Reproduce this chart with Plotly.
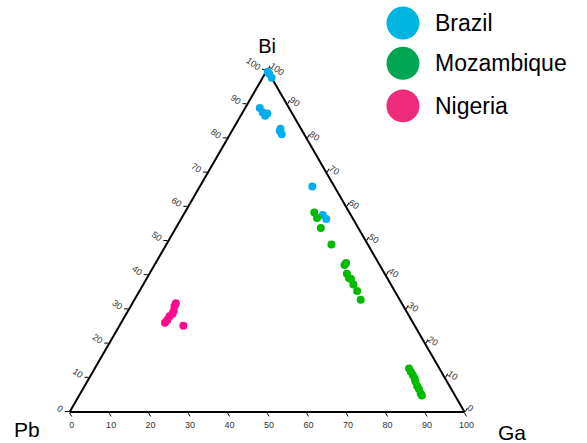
import plotly.graph_objects as go

# Ternary compositions (percent): Bi (top), Pb (bottom-left), Ga (bottom-right)
brazil_bi = [99.5, 99.0, 97.7, 88.9, 87.6, 87.3, 86.6, 82.8, 82.2, 81.2, 65.9, 57.6, 56.4]
brazil_ga = [0.4, 1.0, 2.3, 3.7, 5.1, 6.4, 6.2, 12.0, 12.1, 13.1, 28.5, 35.3, 36.8]
brazil_pb = [0.1, 0.0, 0.0, 7.4, 7.3, 6.3, 7.2, 5.2, 5.7, 5.7, 5.6, 7.1, 6.8]

moz_bi = [58.3, 56.7, 53.8, 49.0, 43.0, 43.6, 40.4, 39.2, 38.9, 37.3, 35.4, 32.8,
          12.7, 11.8, 10.8, 9.9, 8.9, 7.6, 6.7, 5.4, 4.8]
moz_ga = [32.8, 34.3, 36.7, 41.8, 48.1, 48.2, 50.0, 51.1, 51.8, 53.2, 55.1, 57.3,
          79.6, 80.5, 81.5, 82.4, 83.1, 84.2, 85.1, 86.2, 86.8]
moz_pb = [8.9, 9.0, 9.5, 9.2, 8.9, 8.2, 9.6, 9.7, 9.3, 9.5, 9.5, 9.9,
          7.7, 7.7, 7.7, 7.7, 8.0, 8.2, 8.2, 8.4, 8.4]

nig_bi = [31.8, 30.9, 29.5, 28.7, 28.0, 26.8, 26.1, 25.2]
nig_ga = [11.0, 11.1, 11.6, 11.7, 11.3, 11.3, 11.1, 16.2]
nig_pb = [57.2, 58.0, 58.9, 59.6, 60.7, 61.9, 62.8, 58.6]

tick_vals = list(range(0, 101, 10))
countries = ["Brazil", "Mozambique", "Nigeria"]
corner_labels = ["Bi", "Pb", "Ga"]
legend_colors = ["#00B4E0", "#00A651", "#EE2A7B"]
point_colors = ["#00AEEF", "#00BB00", "#FF0A8C"]

FONT = "Liberation Sans"

fig = go.Figure()
series = [(brazil_bi, brazil_pb, brazil_ga), (moz_bi, moz_pb, moz_ga), (nig_bi, nig_pb, nig_ga)]
for name, col, (a, b, c) in zip(countries, point_colors, series):
    fig.add_trace(go.Scatterternary(
        a=a, b=b, c=c, mode="markers", name=name,
        marker=dict(size=8, color=col, line=dict(width=0)),
        showlegend=False, cliponaxis=False,
    ))

axis_common = dict(
    showgrid=False, linecolor="black", linewidth=2, ticks="outside", ticklen=4,
    tickcolor="black", tickwidth=1, tickfont=dict(size=9, color="#333", family=FONT),
    tickvals=tick_vals, min=0, layer="below traces",
)

fig.update_layout(
    width=587, height=443,
    margin=dict(l=0, r=0, t=0, b=0),
    paper_bgcolor="white",
    font=dict(family=FONT, color="black"),
    ternary=dict(
        sum=100,
        bgcolor="white",
        domain=dict(x=[0.1, 0.81], y=[0.07, 0.842]),
        aaxis=dict(title=dict(text=corner_labels[0], font=dict(size=20, family=FONT)),
                   ticktext=[str(v) for v in tick_vals], tickangle=35, **axis_common),
        baxis=dict(title=dict(text=""),
                   ticktext=[str(100 - v) for v in tick_vals], **axis_common),
        caxis=dict(title=dict(text=""),
                   ticktext=[str(100 - v) for v in tick_vals], tickangle=35, **axis_common),
    ),
)

# Corner labels for Pb and Ga
fig.add_annotation(x=0.046, y=0.03, xref="paper", yref="paper", text=corner_labels[1],
                   showarrow=False, xanchor="center", yanchor="middle",
                   font=dict(size=21, family=FONT, color="black"))
fig.add_annotation(x=0.873, y=0.024, xref="paper", yref="paper", text=corner_labels[2],
                   showarrow=False, xanchor="center", yanchor="middle",
                   font=dict(size=21, family=FONT, color="black"))

# Legend (large swatches, as in the reference)
leg_y = [0.948, 0.857, 0.761]
for name, col, y in zip(countries, legend_colors, leg_y):
    fig.add_shape(type="circle", xref="paper", yref="paper",
                  x0=0.6865 - 0.0281, x1=0.6865 + 0.0281,
                  y0=y - 0.0372, y1=y + 0.0372,
                  fillcolor=col, line=dict(width=0))
    fig.add_annotation(x=0.738, y=y, xref="paper", yref="paper", text=name,
                       showarrow=False, xanchor="left", yanchor="middle",
                       font=dict(size=23, family=FONT, color="black"))

fig.write_html("out.html", config={"displayModeBar": False},
               post_script="document.body.style.margin='0';")
